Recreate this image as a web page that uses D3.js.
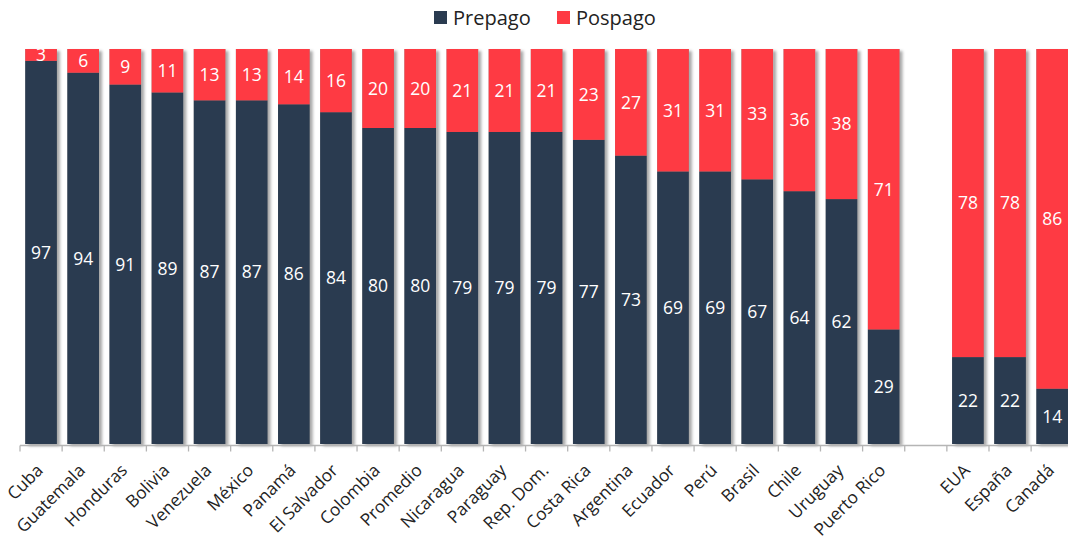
<!DOCTYPE html>
<html>
<head>
<meta charset="utf-8">
<script src="https://cdn.jsdelivr.net/npm/d3@7/dist/d3.min.js"></script>
<style>
  html, body { margin: 0; padding: 0; background: #fff; overflow: hidden; }
  svg { display: block; font-family: 'Open Sans', sans-serif; }
</style>
</head>
<body>
<svg id="chart" width="1068" height="541"></svg>
<script>
// categories ('' marks the empty slot between Latin America and the rest)
const paises = ['Cuba', 'Guatemala', 'Honduras', 'Bolivia', 'Venezuela', 'México', 'Panamá',
  'El Salvador', 'Colombia', 'Promedio', 'Nicaragua', 'Paraguay', 'Rep. Dom.', 'Costa Rica',
  'Argentina', 'Ecuador', 'Perú', 'Brasil', 'Chile', 'Uruguay', 'Puerto Rico', '',
  'EUA', 'España', 'Canadá'];
const prepago = [97, 94, 91, 89, 87, 87, 86, 84, 80, 80, 79, 79, 79, 77, 73, 69, 69, 67, 64, 62, 29, null, 22, 22, 14];
const pospago = [3, 6, 9, 11, 13, 13, 14, 16, 20, 20, 21, 21, 21, 23, 27, 31, 31, 33, 36, 38, 71, null, 78, 78, 86];
const series = ['Prepago', 'Pospago'];

const colors = { Prepago: '#2a3b50', Pospago: '#fe3a43' };

const svg = d3.select('#chart');
const margin = { left: 20, top: 49, bottom: 97 };
const height = 541 - margin.top - margin.bottom;

const data = paises.map((p, i) => ({ key: i, pais: p, Prepago: prepago[i], Pospago: pospago[i] }));

const x = d3.scaleBand()
  .domain(data.map(d => d.key))
  .range([margin.left, margin.left + 25 * 42.13])
  .paddingInner(0.25)
  .paddingOuter(0.125);

const y = d3.scaleLinear().domain([0, 100]).range([margin.top + height, margin.top]);

// bar shadow
const defs = svg.append('defs');
const f = defs.append('filter').attr('id', 'sombra')
  .attr('x', '-20%').attr('y', '-5%').attr('width', '160%').attr('height', '115%');
f.append('feDropShadow').attr('dx', 3).attr('dy', 2).attr('stdDeviation', 1.6)
  .attr('flood-color', '#000').attr('flood-opacity', 0.35);

const stacked = d3.stack().keys(series)(data.filter(d => d.Prepago !== null));

const g = svg.append('g');

const layer = g.selectAll('g.layer')
  .data(stacked)
  .join('g')
  .attr('class', 'layer')
  .attr('fill', d => colors[d.key]);

// shadows drawn under everything, one per full bar
g.insert('g', ':first-child')
  .selectAll('rect')
  .data(data.filter(d => d.Prepago !== null))
  .join('rect')
  .attr('x', d => x(d.key))
  .attr('y', y(100))
  .attr('width', x.bandwidth())
  .attr('height', y(0) - y(100))
  .attr('fill', '#888')
  .attr('filter', 'url(#sombra)');

layer.selectAll('rect')
  .data(d => d)
  .join('rect')
  .attr('x', d => x(d.data.key))
  .attr('y', d => y(d[1]))
  .attr('width', x.bandwidth())
  .attr('height', d => y(d[0]) - y(d[1]));

layer.selectAll('text')
  .data(d => d)
  .join('text')
  .attr('x', d => x(d.data.key) + x.bandwidth() / 2)
  .attr('y', d => (y(d[0]) + y(d[1])) / 2)
  .attr('dy', '0.36em')
  .attr('text-anchor', 'middle')
  .attr('fill', '#fff')
  .attr('font-size', 17.5)
  .text(d => d[1] - d[0]);

// x axis
const axisG = svg.append('g')
  .attr('transform', `translate(0,${y(0) + 1.5})`);

axisG.append('line')
  .attr('x1', margin.left).attr('x2', 1068)
  .attr('stroke', '#b5b5b5').attr('stroke-width', 1.3);

const step = x.step();
axisG.selectAll('line.tick')
  .data(d3.range(26))
  .join('line')
  .attr('class', 'tick')
  .attr('x1', i => margin.left + i * step)
  .attr('x2', i => margin.left + i * step)
  .attr('y1', 0).attr('y2', 6)
  .attr('stroke', '#b5b5b5').attr('stroke-width', 1.3);

axisG.selectAll('text')
  .data(data.filter(d => d.pais !== ''))
  .join('text')
  .attr('transform', d => `translate(${x(d.key) + x.bandwidth() / 2 + 3},${26}) rotate(-45)`)
  .attr('text-anchor', 'end')
  .attr('font-size', 17.3)
  .attr('fill', '#222')
  .text(d => d.pais);

// legend
const legend = svg.append('g').attr('transform', 'translate(434,18)');
const lx = [0, 123];
series.forEach((s, i) => {
  const it = legend.append('g').attr('transform', `translate(${lx[i]},0)`);
  it.append('rect').attr('x', 0).attr('y', -7).attr('width', 13).attr('height', 13).attr('fill', colors[s]);
  it.append('text').attr('x', 19).attr('y', 0).attr('dy', '0.36em')
    .attr('font-size', 20).attr('fill', '#222').text(s);
});
</script>
</body>
</html>
